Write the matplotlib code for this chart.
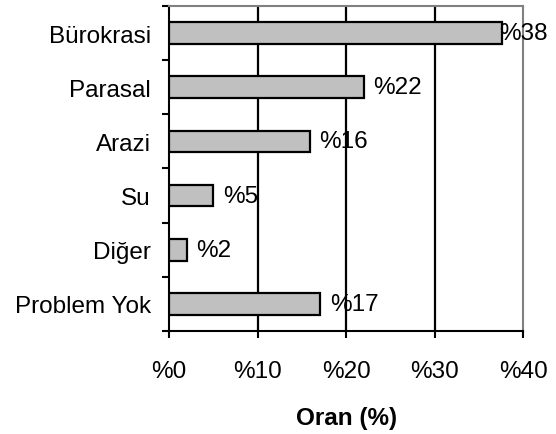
import matplotlib.pyplot as plt
import numpy as np

plt.rcParams['font.family'] = ['Liberation Sans', 'DejaVu Sans']

categories = ['Bürokrasi', 'Parasal', 'Arazi', 'Su', 'Diğer', 'Problem Yok']
values = [37.6, 22.0, 15.9, 5.0, 2.0, 17.1]
labels = ['%38', '%22', '%16', '%5', '%2', '%17']
xticks = [0, 10, 20, 30, 40]
xtick_labels = ['%0', '%10', '%20', '%30', '%40']

fig = plt.figure(figsize=(5.56, 4.35), dpi=100)
ax = fig.add_axes([0.304, 0.237, 0.637, 0.747])

n = len(categories)
ypos = np.arange(n)[::-1] + 0.5
ax.barh(ypos, values, height=0.4, color='#c0c0c0', edgecolor='black',
        linewidth=1.6, zorder=3)

# etiketler: çubuk sonuna yakın, sığmayanı içeri kaydır
for y, v, lab in zip(ypos, values, labels):
    ax.text(min(v + 1.1, 37.3), y, lab, va='center', ha='left',
            fontsize=17.5, zorder=4)

ax.set_xlim(0, 40)
ax.set_ylim(0, n)
ax.set_xticks(xticks)
ax.set_xticklabels(xtick_labels, fontsize=17.5)
ax.set_yticks(np.arange(n + 1))
ax.set_yticklabels([])
ax.set_yticks(ypos, minor=True)
ax.set_yticklabels(categories, minor=True, fontsize=17.5)
ax.tick_params(axis='y', which='minor', length=0, pad=13)
ax.tick_params(axis='y', which='major', length=5, width=1.5, direction='out')
ax.tick_params(axis='x', length=5, width=1.5, direction='out', pad=16)

for x in xticks[1:-1]:
    ax.axvline(x, color='black', linewidth=1.6, zorder=1)

ax.spines['left'].set_linewidth(1.5)
ax.spines['bottom'].set_linewidth(1.5)
ax.spines['top'].set_color('#808080')
ax.spines['right'].set_color('#808080')
ax.spines['top'].set_linewidth(1.5)
ax.spines['right'].set_linewidth(1.5)

ax.set_xlabel('Oran (%)', fontsize=17.5, fontweight='bold', labelpad=17)

fig.savefig('out.png', dpi=100)
